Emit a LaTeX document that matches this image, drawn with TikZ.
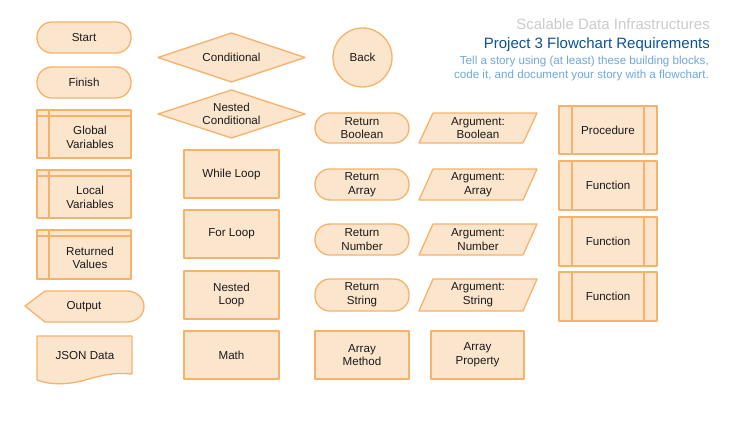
\documentclass[tikz,border=0pt]{standalone}
\usepackage{fontspec}
\setmainfont{Liberation Sans}
\definecolor{fillc}{HTML}{FCE5CD}
\definecolor{linec}{HTML}{F6B26B}
\definecolor{titlegray}{HTML}{CCCCCC}
\definecolor{titleblue}{HTML}{0B5394}
\definecolor{subblue}{HTML}{6FA8DC}
\definecolor{textc}{HTML}{1A1A1A}
\begin{document}
\begin{tikzpicture}[x=1pt,y=-1pt,
  shp/.style={draw=linec, fill=fillc, line width=1.3pt, line join=round},
  inner/.style={draw=linec, line width=1.3pt},
  txt/.style={font=\fontsize{11.6}{13.7}\selectfont, align=center, inner sep=0pt, text=textc},
  rectbox/.style={shp, txt, rectangle, minimum width=95, minimum height=48},
  termbox/.style={shp, txt, rectangle, rounded corners=15pt, minimum width=94, minimum height=31},
  titletxt/.style={font=\fontsize{15}{18}\selectfont, inner sep=0pt, anchor=base east},
  subtxt/.style={font=\fontsize{11.6}{13.5}\selectfont, inner sep=0pt, anchor=base east, text=subblue}
]
\fill[white] (0,0) rectangle (755,428);
\useasboundingbox (0,0) rectangle (755,428);

% titles
\node[titletxt, text=titlegray] (t1) at (710,30) {Scalable Data Infrastructures};
\node[titletxt, text=titleblue] (t2) at (710,48.5) {Project 3 Flowchart Requirements};
\node[subtxt] (t3) at (709,65) {Tell a story using (at least) these building blocks,};
\node[subtxt] (t4) at (709,78.5) {code it, and document your story with a flowchart.};

% column 1
\node[termbox] (start) at (84,37.5) {Start};
\node[termbox] (finish) at (84,82.5) {Finish};

\draw[shp] (37,110) rectangle (131,158);
\draw[inner] (49,110) -- (49,158) (37,116) -- (131,116);
\node[txt] (global) at (90,137.5) {Global\\Variables};

\draw[shp] (37,170) rectangle (131,218);
\draw[inner] (49,170) -- (49,218) (37,176) -- (131,176);
\node[txt] (local) at (90,197.5) {Local\\Variables};

\draw[shp] (37,230) rectangle (131,279);
\draw[inner] (49,230) -- (49,279) (37,236) -- (131,236);
\node[txt] (returned) at (90,258) {Returned\\Values};

\draw[shp] (25,306) -- (45,291) -- (127,291)
  .. controls (136.5,291) and (144,298) .. (144,306.5)
  .. controls (144,315) and (136.5,322) .. (127,322) -- (45,322) -- cycle;
\node[txt] (output) at (84,306.5) {Output};

\draw[shp] (37,336) -- (132,336) -- (132,374)
  .. controls (112,372) and (100,376) .. (85,380)
  .. controls (68,385) and (50,385) .. (37,380) -- cycle;
\node[txt] (json) at (85,356) {JSON Data};

% column 2
\draw[shp] (158,57.5) -- (231.5,33) -- (305,57.5) -- (231.5,82) -- cycle;
\node[txt] (cond) at (231.5,57.5) {Conditional};
\draw[shp] (158,114) -- (231.5,90) -- (305,114) -- (231.5,138) -- cycle;
\node[txt] (ncond) at (231.5,114) {Nested\\Conditional};

\node[rectbox] (while) at (231.5,174) {While Loop};
\node[rectbox] (for) at (231.5,234) {For Loop};
\node[rectbox] (nloop) at (231.5,295) {Nested\\Loop};
\node[rectbox] (math) at (231.5,355) {Math};

% column 3
\node[shp, txt, circle, minimum size=59] (back) at (362.5,57.5) {Back};
\node[termbox, minimum height=30] (rbool) at (362,128) {Return\\Boolean};
\node[termbox] (rarr) at (362,184.5) {Return\\Array};
\node[termbox] (rnum) at (362,239.5) {Return\\Number};
\node[termbox, minimum height=32] (rstr) at (362,295) {Return\\String};
\node[rectbox, minimum width=94] (amethod) at (362,355) {Array\\Method};

% column 4
\draw[shp] (419,143) -- (433,113) -- (537,113) -- (523,143) -- cycle;
\node[txt] (abool) at (478,128) {Argument:\\Boolean};
\draw[shp] (419,200) -- (433,169) -- (537,169) -- (523,200) -- cycle;
\node[txt] (aarr) at (478,184.5) {Argument:\\Array};
\draw[shp] (419,255) -- (433,224) -- (537,224) -- (523,255) -- cycle;
\node[txt] (anum) at (478,239.5) {Argument:\\Number};
\draw[shp] (419,311) -- (433,279) -- (537,279) -- (523,311) -- cycle;
\node[txt] (astr) at (478,295) {Argument:\\String};
\node[rectbox, minimum width=93] (aprop) at (477.5,355) {Array\\Property};

% column 5
\draw[shp] (559,106) rectangle (657,154);
\draw[inner] (572,106) -- (572,154) (644,106) -- (644,154);
\node[txt] (proc) at (608,130) {Procedure};
\draw[shp] (559,161) rectangle (657,210);
\draw[inner] (572,161) -- (572,210) (644,161) -- (644,210);
\node[txt] (func1) at (608,185.5) {Function};
\draw[shp] (559,217) rectangle (657,266);
\draw[inner] (572,217) -- (572,266) (644,217) -- (644,266);
\node[txt] (func2) at (608,241.5) {Function};
\draw[shp] (559,272) rectangle (657,321);
\draw[inner] (572,272) -- (572,321) (644,272) -- (644,321);
\node[txt] (func3) at (608,296.5) {Function};
\end{tikzpicture}
\end{document}
